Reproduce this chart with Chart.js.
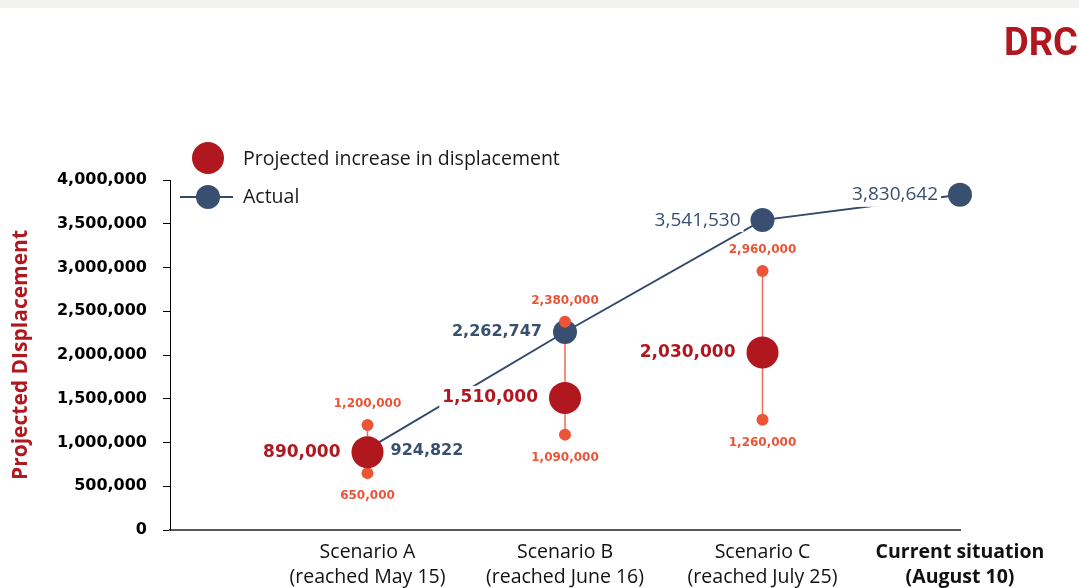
<!DOCTYPE html>
<html>
<head>
<meta charset="utf-8">
<script src="https://cdn.jsdelivr.net/npm/chart.js@4.4.0/dist/chart.umd.min.js"></script>
<style>
body { margin: 0; background: #fff; }
#wrap { position: relative; width: 1079px; height: 588px; overflow: hidden; }
#topband { position: absolute; left: 0; top: 0; width: 1079px; height: 8px; background: #f2f2f0; }
#logo { position: absolute; left: 1004px; top: 20px; font-family: Roboto; font-weight: 700; font-size: 38px; color: #b0171f; white-space: nowrap; }
canvas { position: absolute; left: 0; top: 0; }
</style>
</head>
<body>
<div id="wrap">
    <canvas id="myChart" width="1079" height="588"></canvas>
    <div id="topband"></div>
    <div id="logo">DRC</div>
</div>
<script>
// data
let xLabels = [["Scenario A", "(reached May 15)"], ["Scenario B", "(reached June 16)"], ["Scenario C", "(reached July 25)"], ["Current situation", "(August 10)"]]
let actual = [924822, 2262747, 3541530, 3830642]
let projected = [890000, 1510000, 2030000]
let projLow = [650000, 1090000, 1260000]
let projHigh = [1200000, 2380000, 2960000]
let legendLabels = ["Projected increase in displacement", "Actual"]
let yTitle = "Projected DIsplacement"

const red = "#b0171f"
const blue = "#384f70"
const blueLine = "#34496b"
const orange = "#eb5436"

function fmt(v) {
    return v.toLocaleString("en-US")
}

// range lines, one small dataset per scenario
let rangeSets = projLow.map(function (lo, i) {
    return {
        label: "range" + i,
        data: [{x: i + 1, y: lo}, {x: i + 1, y: projHigh[i]}],
        showLine: true,
        borderColor: "#ee6d57",
        borderWidth: 1.5,
        pointRadius: 0,
        clip: false,
        order: 3
    }
})

let rangeDots = []
for (let i = 0; i < projLow.length; i++) {
    rangeDots.push({x: i + 1, y: projLow[i]})
    rangeDots.push({x: i + 1, y: projHigh[i]})
}

const labelPlugin = {
    id: "labels",
    afterDatasetsDraw(chart) {
        let ctx = chart.ctx
        let xs = chart.scales.x, ys = chart.scales.y
        ctx.save()
        ctx.textBaseline = "middle"

        function txt(s, px, py, align, font, color, box) {
            ctx.font = font
            ctx.textAlign = align
            if (box) {
                let w = ctx.measureText(s).width
                let left = align === "right" ? px - w : (align === "center" ? px - w / 2 : px)
                ctx.fillStyle = "#fff"
                ctx.fillRect(left - 3, py - 12, w + 6, 24)
            }
            ctx.fillStyle = color
            ctx.fillText(s, px, py)
        }

        for (let i = 0; i < projected.length; i++) {
            let px = xs.getPixelForValue(i + 1)
            txt(fmt(projected[i]), px - 27, ys.getPixelForValue(projected[i]), "right", "bold 17px 'DejaVu Sans'", red, true)
            txt(fmt(projHigh[i]), px, ys.getPixelForValue(projHigh[i]) - 21, "center", "bold 12px 'DejaVu Sans'", orange, false)
            txt(fmt(projLow[i]), px, ys.getPixelForValue(projLow[i]) + 23, "center", "bold 12px 'DejaVu Sans'", orange, false)
        }

        for (let i = 0; i < actual.length; i++) {
            let px = xs.getPixelForValue(i + 1)
            let py = ys.getPixelForValue(actual[i])
            if (i === 0) {
                txt(fmt(actual[i]), px + 23, py + 2, "left", "bold 16px 'DejaVu Sans'", blue, false)
            } else if (i === 1) {
                txt(fmt(actual[i]), px - 23, py, "right", "bold 16px 'DejaVu Sans'", blue, false)
            } else {
                txt(fmt(actual[i]), px - 22, py, "right", "19px 'Open Sans'", blue, true)
            }
        }
        ctx.restore()
    },
    afterDraw(chart) {
        // legend
        let ctx = chart.ctx
        ctx.save()
        ctx.fillStyle = red
        ctx.beginPath()
        ctx.arc(208, 158, 16, 0, 2 * Math.PI)
        ctx.fill()

        ctx.strokeStyle = blueLine
        ctx.lineWidth = 2
        ctx.beginPath()
        ctx.moveTo(180, 197)
        ctx.lineTo(233, 197)
        ctx.stroke()
        ctx.fillStyle = blue
        ctx.beginPath()
        ctx.arc(208, 197, 12, 0, 2 * Math.PI)
        ctx.fill()

        ctx.fillStyle = "#1a1a1a"
        ctx.font = "19.5px 'Open Sans'"
        ctx.textAlign = "left"
        ctx.textBaseline = "middle"
        ctx.fillText(legendLabels[0], 243, 159)
        ctx.fillText(legendLabels[1], 243, 197)
        ctx.restore()
    }
}

let chart = new Chart(document.getElementById("myChart").getContext("2d"), {
    type: "scatter",
    data: {
        datasets: [
            {
                label: legendLabels[0],
                data: projected.map((v, i) => ({x: i + 1, y: v})),
                backgroundColor: red,
                borderWidth: 0,
                pointRadius: 16,
                clip: false,
                order: 0
            },
            {
                label: "range dots",
                data: rangeDots,
                backgroundColor: orange,
                borderWidth: 0,
                pointRadius: 6,
                clip: false,
                order: 1
            },
            {
                label: legendLabels[1],
                data: actual.map((v, i) => ({x: i + 1, y: v})),
                showLine: true,
                borderColor: blueLine,
                borderWidth: 2,
                backgroundColor: blue,
                pointBackgroundColor: blue,
                pointBorderWidth: 0,
                pointRadius: 12,
                clip: false,
                order: 2
            }
        ].concat(rangeSets)
    },
    options: {
        responsive: false,
        animation: false,
        events: [],
        layout: {
            padding: {left: 0, top: 180, right: 119, bottom: 0}
        },
        plugins: {
            legend: {display: false},
            tooltip: {enabled: false}
        },
        scales: {
            x: {
                type: "linear",
                min: 0,
                max: 4,
                afterBuildTicks: function (s) {
                    s.ticks = [1, 2, 3, 4].map(v => ({value: v}))
                },
                afterFit: function (s) {
                    s.height = 58
                },
                ticks: {
                    autoSkip: false,
                    maxRotation: 0,
                    padding: 2,
                    color: "#111",
                    font: function (c) {
                        return {
                            family: "Open Sans",
                            size: 19.5,
                            lineHeight: 1.28,
                            weight: (c.tick && c.tick.value === 4) ? "bold" : "normal"
                        }
                    },
                    callback: function (v) {
                        return xLabels[v - 1]
                    }
                },
                grid: {display: false},
                border: {display: true, color: "#595959", width: 2}
            },
            y: {
                min: 0,
                max: 4000000,
                afterFit: function (s) {
                    s.width = 170
                },
                ticks: {
                    stepSize: 500000,
                    color: "#000",
                    padding: 16,
                    font: {family: "DejaVu Sans", weight: "bold", size: 16},
                    callback: v => fmt(v)
                },
                grid: {display: true, drawOnChartArea: false, drawTicks: true, tickLength: 7, color: "#000"},
                border: {display: true, color: "#000", width: 1},
                title: {
                    display: true,
                    text: yTitle,
                    color: red,
                    font: {family: "Open Sans", weight: "bold", size: 21},
                    padding: {top: 8, bottom: 0}
                }
            }
        }
    },
    plugins: [labelPlugin]
});
</script>
</body>
</html>
